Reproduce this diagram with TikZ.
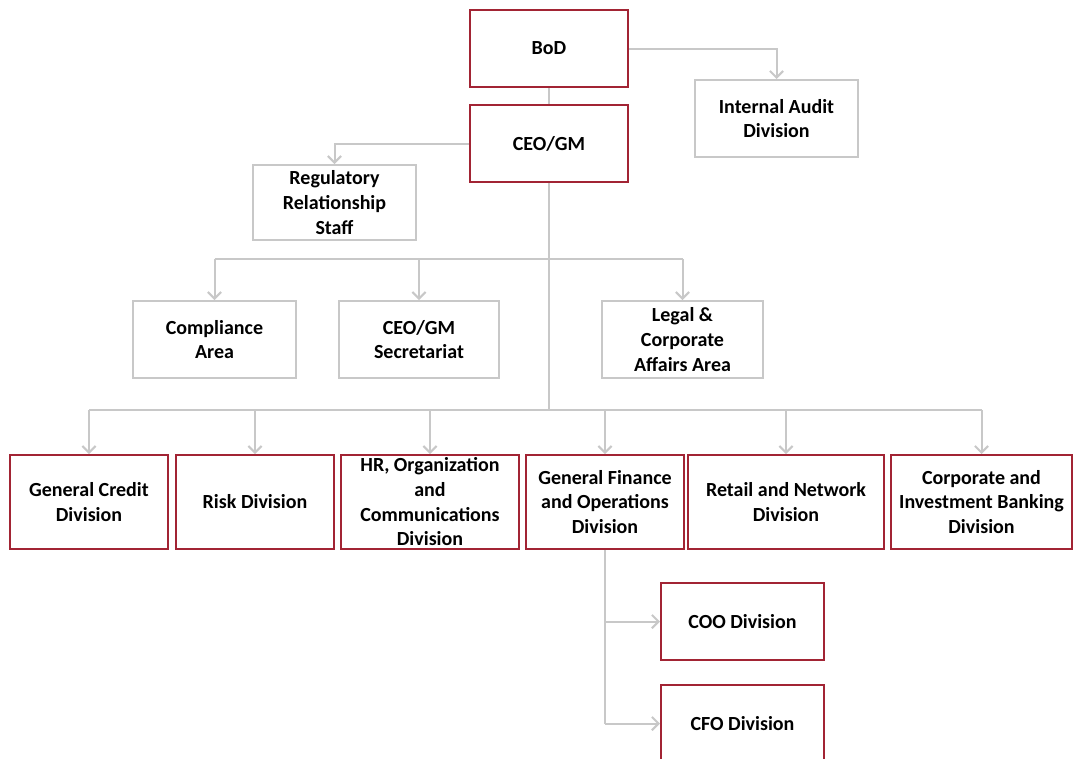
\documentclass[tikz,border=0pt]{standalone}
\usepackage{fontspec}
\setmainfont{Carlito}
\usetikzlibrary{arrows.meta}
\definecolor{boxred}{RGB}{162,36,52}
\definecolor{linegray}{RGB}{200,200,200}
\tikzset{
  unit/.style 2 args={draw=boxred, line width=1.5pt, fill=white, align=center,
    minimum width=#1*0.75pt, minimum height=#2*0.75pt, inner sep=0pt,
    font=\fontsize{15}{18.5}\selectfont\bfseries},
  staff/.style 2 args={unit={#1}{#2}, draw=linegray},
  link/.style={draw=linegray, line width=1.5pt},
  feed/.style={link, -{Straight Barb[length=5pt,width=10pt]}}
}
\begin{document}
\begin{tikzpicture}[x=0.75pt, y=-0.75pt]
  \useasboundingbox (0,0) rectangle (1075,758);
  % top of the chart
  \node[unit={158}{77}] (bod) at (549, 48.5) {BoD};
  \node[unit={158}{77}] (ceo) at (549, 143.5) {CEO/GM};
  \node[staff={163}{77}] (audit) at (776.5, 118.5) {Internal Audit\\Division};
  \node[staff={163}{75}] (reg) at (334.5, 202.5) {Regulatory\\Relationship\\Staff};
  % staff areas
  \node[staff={163}{77}] (compl) at (214.5, 339.5) {Compliance\\Area};
  \node[staff={160}{77}] (secr) at (419, 339.5) {CEO/GM\\Secretariat};
  \node[staff={161}{77}] (legal) at (682.5, 339.5) {Legal \&\\Corporate\\Affairs Area};
  % divisions
  \node[unit={158}{94}] (credit) at (89, 502) {General Credit\\Division};
  \node[unit={158}{94}] (risk) at (255, 502) {Risk Division};
  \node[unit={178}{94}] (hr) at (430, 502) {HR, Organization\\and\\Communications\\Division};
  \node[unit={158}{94}] (gfo) at (605, 502) {General Finance\\and Operations\\Division};
  \node[unit={196}{94}] (retail) at (786, 502) {Retail and Network\\Division};
  \node[unit={181}{94}] (corp) at (981.5, 502) {Corporate and\\Investment Banking\\Division};
  \node[unit={163}{77}] (coo) at (742.5, 621.5) {COO Division};
  \node[unit={163}{77}] (cfo) at (742.5, 723.5) {CFO Division};

  \coordinate (split1) at (549, 259);
  \coordinate (split2) at (549, 410);

  \draw[link] (bod) -- (ceo);
  \draw[feed] (bod.east) -| (audit.north);
  \draw[feed] (ceo.west) -| (reg.north);
  \draw[link] (ceo.south) -- (split2);
  \draw[link] (split1 -| compl.north) -- (split1 -| legal.north);
  \foreach \n in {compl, secr, legal}
    \draw[feed] (split1 -| \n.north) -- (\n.north);
  \draw[link] (split2 -| credit.north) -- (split2 -| corp.north);
  \foreach \n in {credit, risk, hr, gfo, retail, corp}
    \draw[feed] (split2 -| \n.north) -- (\n.north);
  % under general finance
  \draw[link] (gfo.south) -- (gfo.south |- cfo.west);
  \draw[feed] (gfo.south |- coo.west) -- (coo.west);
  \draw[feed] (gfo.south |- cfo.west) -- (cfo.west);
\end{tikzpicture}
\end{document}
